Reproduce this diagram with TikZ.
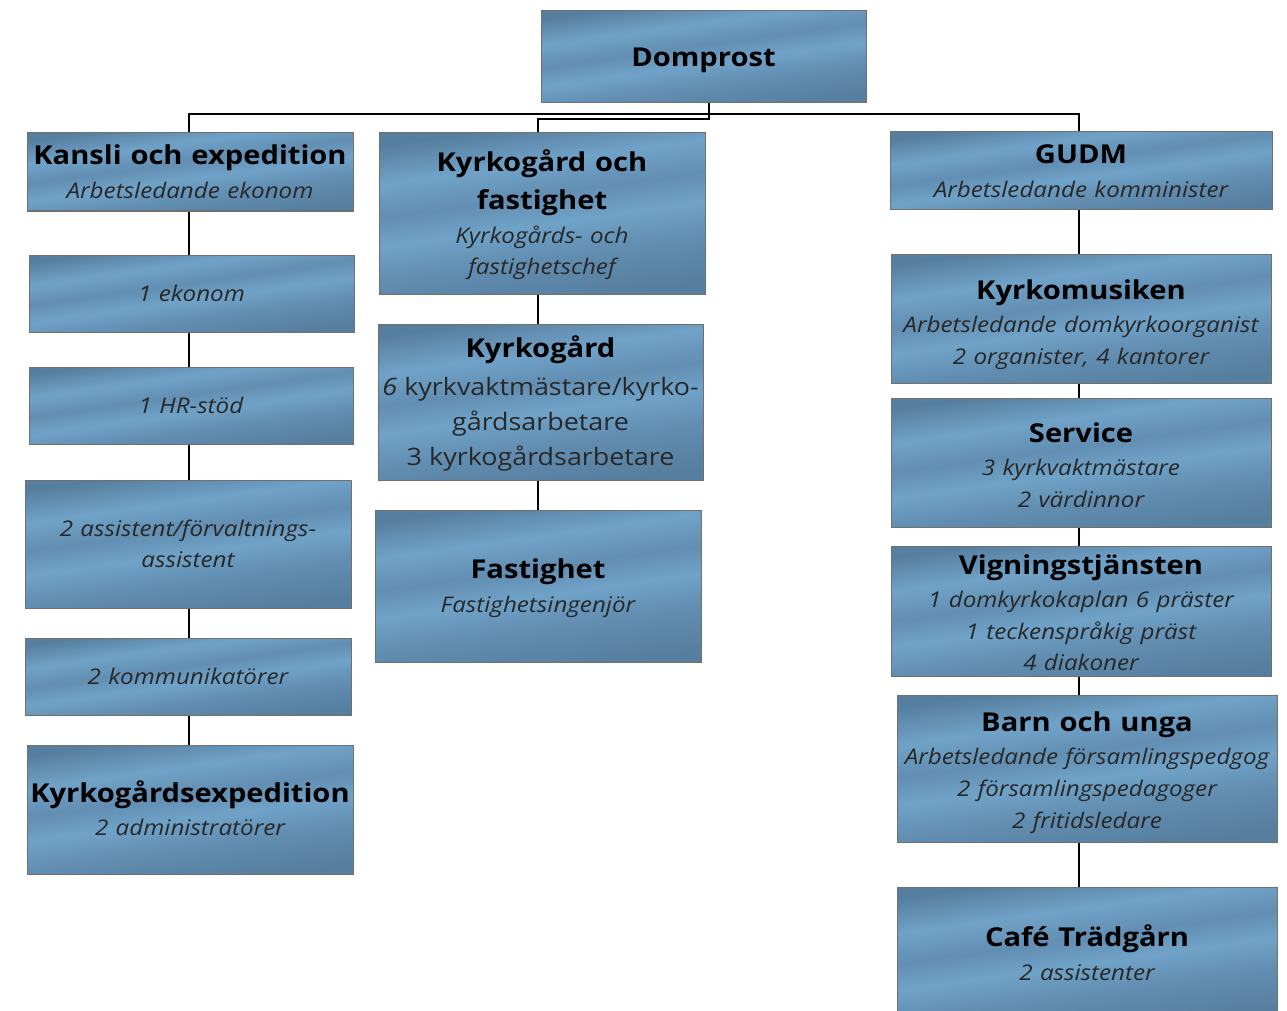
\documentclass[tikz,border=0pt]{standalone}
\usepackage{fontspec}
\setmainfont{Open Sans}[FakeStretch=1.12]
\usetikzlibrary{calc}
\definecolor{mdark}{RGB}{86,126,158}
\definecolor{mmid}{RGB}{98,142,178}
\definecolor{mlight}{RGB}{112,162,200}
\definecolor{bordc}{RGB}{112,112,112}
\definecolor{subc}{RGB}{40,40,40}
\pgfdeclarehorizontalshading{metal}{100bp}{color(0bp)=(mdark); color(25bp)=(mdark); color(38bp)=(mmid); color(47bp)=(mlight); color(55bp)=(mmid); color(64bp)=(mlight); color(75bp)=(mdark); color(100bp)=(mdark)}
\newif\iffirstln
\def\prevln{n}
\newcommand\putln[1]{\hbox to\hsize{\hss\smash{#1}\hss}}
\newcommand\tdown[1]{\vskip #1}
\newcommand\ttl[1]{%
  \iffirstln\vskip 19pt\global\firstlnfalse\else\vskip 38.5pt\fi
  \putln{\fontsize{26}{30}\selectfont\bfseries\spaceskip=0.34em #1}\gdef\prevln{t}}
\newcommand\sub[1]{%
  \iffirstln\vskip 16pt\global\firstlnfalse\else
    \if t\prevln\vskip 33.3pt\else\vskip 31.7pt\fi\fi
  \putln{\fontsize{21.6}{26}\selectfont\itshape\spaceskip=0.34em\color{subc}#1}\gdef\prevln{s}}
\newcommand\subup[1]{%
  \iffirstln\vskip 17pt\global\firstlnfalse\else
    \if t\prevln\vskip 38.3pt\else\vskip 35pt\fi\fi
  \putln{\fontsize{24}{28}\selectfont\spaceskip=0.3em\color{subc}#1}\gdef\prevln{u}}
\tikzset{
  box/.style={draw=bordc, line width=1pt, shading=metal, shading angle=98,
    inner sep=0pt, align=center, anchor=center,
    execute at begin node={\offinterlineskip\global\firstlntrue\gdef\prevln{n}},
    execute at end node={\vskip -3.5pt}},
  bw/.style={minimum width=#1, text width=#1},
  link/.style={line width=2.5pt, line join=miter}
}
\begin{document}
\begin{tikzpicture}[x=1pt, y=-1pt]
\useasboundingbox (0,0) rectangle (1287,1011);
% top
\node[box, bw=325pt, minimum height=92pt] (dom) at (703.5,57) {\ttl{Domprost}};
% left column
\node[box, bw=326pt, minimum height=78pt] (kansli) at (190,172) {\ttl{Kansli och expedition}\sub{Arbetsledande ekonom}};
\node[box, bw=325pt, minimum height=77pt] (ek) at (191.5,293.5) {\sub{1 ekonom}};
\node[box, bw=324pt, minimum height=77pt] (hr) at (191,405.5) {\sub{1 HR-stöd}};
\node[box, bw=326pt, minimum height=128pt] (ass) at (188,544) {\sub{2 assistent/förvaltnings-}\sub{assistent}};
\node[box, bw=326pt, minimum height=77pt] (kom) at (188,676.5) {\sub{2 kommunikatörer}};
\node[box, bw=326pt, minimum height=129pt] (kexp) at (190,809.5) {\ttl{Kyrkogårdsexpedition}\sub{2 administratörer}};
% middle column
\node[box, bw=326pt, minimum height=161pt] (kf) at (542,213.5) {\ttl{Kyrkogård och}\ttl{fastighet}\sub{Kyrkogårds- och}\sub{fastighetschef}};
\node[box, bw=325pt, minimum height=156pt] (kg) at (540.5,402) {\ttl{Kyrkogård}\subup{{\itshape 6} kyrkvaktmästare/kyrko-}\subup{gårdsarbetare}\subup{3 kyrkogårdsarbetare}};
\node[box, bw=326pt, minimum height=152pt] (fast) at (538,586) {\ttl{Fastighet}\sub{Fastighetsingenjör}};
% right column
\node[box, bw=382pt, minimum height=78pt] (gudm) at (1081,171) {\ttl{GUDM}\sub{Arbetsledande komminister}};
\node[box, bw=380pt, minimum height=129pt] (musik) at (1081,318.5) {\tdown{7pt}\ttl{Kyrkomusiken}\sub{Arbetsledande domkyrkoorganist}\sub{2 organister, 4 kantorer}};
\node[box, bw=380pt, minimum height=129pt] (serv) at (1081,462.5) {\tdown{5pt}\ttl{Service}\sub{3 kyrkvaktmästare}\sub{2 värdinnor}};
\node[box, bw=380pt, minimum height=130pt] (vig) at (1081,611) {\tdown{4pt}\ttl{Vigningstjänsten}\sub{1 domkyrkokaplan 6 präster}\sub{1 teckenspråkig präst}\sub{4 diakoner}};
\node[box, bw=380pt, minimum height=147pt] (barn) at (1087,768.5) {\tdown{4pt}\ttl{Barn och unga}\sub{Arbetsledande församlingspedgog}\sub{2 församlingspedagoger}\sub{2 fritidsledare}};
\node[box, bw=380pt, minimum height=134pt] (cafe) at (1087,954) {\ttl{Café Trädgårn}\sub{2 assistenter}};
% connector guides
\coordinate (T) at (709,0);
\coordinate (L) at (189,0);
\coordinate (M) at (538,0);
\coordinate (R) at (1079,0);
\coordinate (h1) at (0,114);
\coordinate (h2) at (0,119);
% top connectors
\draw[link] (dom.south -| T) -- (T |- h2) -| (kf.north -| M);
\draw[link] (T |- h1) -| (kansli.north -| L);
\draw[link] (T |- h1) -| (gudm.north -| R);
% left
\draw[link] (kansli.south -| L) -- (ek.north -| L);
\draw[link] (ek.south -| L) -- (hr.north -| L);
\draw[link] (hr.south -| L) -- (ass.north -| L);
\draw[link] (ass.south -| L) -- (kom.north -| L);
\draw[link] (kom.south -| L) -- (kexp.north -| L);
% middle
\draw[link] (kf.south -| M) -- (kg.north -| M);
\draw[link] (kg.south -| M) -- (fast.north -| M);
% right
\draw[link] (gudm.south -| R) -- (musik.north -| R);
\draw[link] (musik.south -| R) -- (serv.north -| R);
\draw[link] (serv.south -| R) -- (vig.north -| R);
\draw[link] (vig.south -| R) -- (barn.north -| R);
\draw[link] (barn.south -| R) -- (cafe.north -| R);
\end{tikzpicture}
\end{document}
